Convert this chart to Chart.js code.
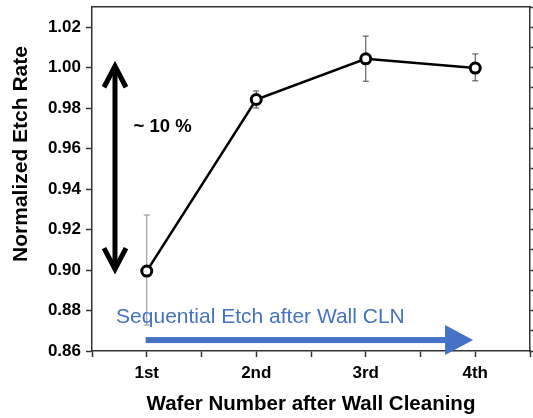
<!DOCTYPE html>
<html>
<head>
<meta charset="utf-8">
<script src="https://cdn.jsdelivr.net/npm/chart.js@4.4.0/dist/chart.umd.min.js"></script>
<style>
  body { margin: 0; background: #fff; }
  canvas { display: block; }
</style>
</head>
<body>
<canvas id="chart" width="533" height="418"></canvas>
<script>
var waferLabels = ['1st', '2nd', '3rd', '4th'];
var waferNumbers = [1, 2, 3, 4];
var etchRate = [0.8995, 0.9843, 1.0044, 0.9998];
var errHigh = [0.9272, 0.9885, 1.0156, 1.0068];
var errLow = [0.8728, 0.9801, 0.9933, 0.9935];
var errColors = ['#8c8c8c', '#444444', '#444444', '#444444'];

var axisFont = { family: 'Liberation Sans', size: 17, weight: 'bold' };
var axisColor = '#333';

// fixed box sizes, and no extra room for half-labels at the ends
function fixBox(w, h) {
    return function (s) {
        if (w !== null) s.width = w;
        if (h !== null) s.height = h;
        s.paddingTop = s.paddingBottom = s.paddingLeft = s.paddingRight = 0;
    };
}

// error bars under the points, arrows and notes over them
var extras = {
    id: 'extras',
    beforeDatasetsDraw: function (chart) {
        var ctx = chart.ctx, x = chart.scales.x, y = chart.scales.y;
        ctx.save();
        ctx.lineWidth = 1;
        for (var i = 0; i < waferNumbers.length; i++) {
            var px = x.getPixelForValue(waferNumbers[i]);
            var top = y.getPixelForValue(errHigh[i]);
            var bot = y.getPixelForValue(errLow[i]);
            ctx.strokeStyle = errColors[i];
            ctx.beginPath();
            ctx.moveTo(px, top); ctx.lineTo(px, bot);
            ctx.moveTo(px - 3, top); ctx.lineTo(px + 3, top);
            ctx.moveTo(px - 3, bot); ctx.lineTo(px + 3, bot);
            ctx.stroke();
        }
        ctx.restore();
    },
    afterDatasetsDraw: function (chart) {
        var ctx = chart.ctx, x = chart.scales.x, y = chart.scales.y;
        ctx.save();

        // y title sits a bit above the middle in the original
        ctx.fillStyle = '#000';
        ctx.font = 'bold 21px "Liberation Sans"';
        ctx.textAlign = 'center';
        ctx.textBaseline = 'middle';
        ctx.translate(21, 154);
        ctx.rotate(-Math.PI / 2);
        ctx.fillText('Normalized Etch Rate', 0, 0);
        ctx.setTransform(1, 0, 0, 1, 0, 0);

        // black double arrow: ~10 %
        var ax = x.getPixelForValue(0.71);
        var aTop = y.getPixelForValue(1.0022);
        var aBot = y.getPixelForValue(0.899);
        ctx.strokeStyle = '#000';
        ctx.lineWidth = 5;
        ctx.lineCap = 'butt';
        ctx.lineJoin = 'miter';
        ctx.beginPath();
        ctx.moveTo(ax, aTop + 3); ctx.lineTo(ax, aBot - 3);
        ctx.stroke();
        ctx.beginPath();
        ctx.moveTo(ax - 11, aTop + 24); ctx.lineTo(ax, aTop + 3); ctx.lineTo(ax + 11, aTop + 24);
        ctx.moveTo(ax - 11, aBot - 24); ctx.lineTo(ax, aBot - 3); ctx.lineTo(ax + 11, aBot - 24);
        ctx.stroke();

        ctx.font = 'bold 18.5px "Liberation Sans"';
        ctx.textAlign = 'left';
        ctx.fillText('~ 10 %', x.getPixelForValue(0.88), y.getPixelForValue(0.9706));

        // blue arrow along the bottom
        var bx0 = x.getPixelForValue(0.99);
        var bx1 = x.getPixelForValue(3.98);
        var by = y.getPixelForValue(0.8654);
        ctx.fillStyle = '#4472C4';
        ctx.fillRect(bx0, by - 3, bx1 - 28 - bx0, 6);
        ctx.beginPath();
        ctx.moveTo(bx1 - 28, by - 15);
        ctx.lineTo(bx1, by);
        ctx.lineTo(bx1 - 28, by + 15);
        ctx.closePath();
        ctx.fill();

        ctx.font = '21px "Liberation Sans"';
        ctx.fillText('Sequential Etch after Wall CLN', x.getPixelForValue(0.72), y.getPixelForValue(0.8768));
        ctx.restore();
    }
};

new Chart(document.getElementById('chart'), {
    type: 'line',
    data: {
        datasets: [{
            data: waferNumbers.map(function (n, i) { return { x: n, y: etchRate[i] }; }),
            borderColor: '#000',
            borderWidth: 2.5,
            pointRadius: 5,
            pointBorderWidth: 3,
            pointBackgroundColor: '#fff',
            pointBorderColor: '#000',
            tension: 0
        }]
    },
    options: {
        responsive: false,
        animation: false,
        layout: { padding: 0, autoPadding: false },
        plugins: { legend: { display: false }, tooltip: { enabled: false } },
        scales: {
            x: {
                type: 'linear', position: 'bottom', min: 0.5, max: 4.5,
                afterBuildTicks: function (s) {
                    s.ticks = [0.5, 1, 1.5, 2, 2.5, 3, 3.5, 4, 4.5].map(function (v) { return { value: v }; });
                },
                afterFit: fixBox(null, 67),
                ticks: {
                    autoSkip: false, maxRotation: 0, padding: 6, color: '#000', font: axisFont,
                    callback: function (v) { return Number.isInteger(v) ? waferLabels[v - 1] : ''; }
                },
                grid: { drawOnChartArea: false, tickLength: 6, tickColor: axisColor, tickWidth: 1.5 },
                border: { color: axisColor, width: 1.5 },
                title: {
                    display: true, text: 'Wafer Number after Wall Cleaning', color: '#000',
                    font: { family: 'Liberation Sans', size: 20.5, weight: 'bold' }, padding: { top: 0, bottom: 1 }
                }
            },
            xTop: {
                type: 'linear', position: 'top', min: 0.5, max: 4.5,
                afterFit: fixBox(null, 7),
                ticks: { display: false },
                grid: { drawOnChartArea: false, drawTicks: false },
                border: { color: axisColor, width: 1.5 }
            },
            y: {
                type: 'linear', position: 'left', min: 0.86, max: 1.03,
                afterFit: fixBox(92, null),
                ticks: {
                    stepSize: 0.01, padding: 5, color: '#000', font: axisFont,
                    callback: function (v) {
                        var k = Math.round(v * 100);
                        return k % 2 === 0 ? (k / 100).toFixed(2) : '';
                    }
                },
                grid: { drawOnChartArea: false, tickLength: 6, tickColor: axisColor, tickWidth: 1.5 },
                border: { color: axisColor, width: 1.5 }
            },
            yRight: {
                type: 'linear', position: 'right', min: 0.86, max: 1.03,
                afterFit: fixBox(3, null),
                ticks: { stepSize: 0.01, display: false },
                grid: { drawOnChartArea: false, tickLength: 4, tickColor: axisColor, tickWidth: 1.5 },
                border: { color: axisColor, width: 1.5 }
            }
        }
    },
    plugins: [extras]
});
</script>
</body>
</html>
